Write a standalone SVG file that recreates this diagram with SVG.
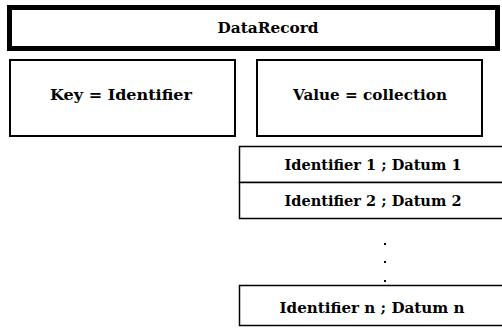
<svg xmlns="http://www.w3.org/2000/svg" width="502" height="329" viewBox="0 0 502 329">
<style>
  text { font-family: 'DejaVu Serif', 'Liberation Serif', serif; font-weight: bold; font-size: 14px; fill: #000; text-anchor: middle; }
  .box { fill: #fff; stroke: #000; stroke-width: 2; }
  .thick { fill: #fff; stroke: #000; stroke-width: 5; }
  .item { fill: #fff; stroke: #000; stroke-width: 1.5; }
</style>
<rect x="0" y="0" width="502" height="329" fill="#fff"/>
<g id="datarecord">
  <rect class="thick" x="9.5" y="7.5" width="488" height="41"/>
  <text x="268" y="33" textLength="101" lengthAdjust="spacingAndGlyphs">DataRecord</text>
</g>
<g id="key">
  <rect class="box" x="10" y="60" width="225" height="76"/>
  <text x="121" y="100" textLength="142" lengthAdjust="spacingAndGlyphs">Key = Identifier</text>
</g>
<g id="value">
  <rect class="box" x="257" y="60" width="225" height="76"/>
  <text x="370" y="100" textLength="154" lengthAdjust="spacingAndGlyphs">Value = collection</text>
</g>
<g id="item1">
  <rect class="item" x="239.5" y="146.5" width="270" height="36"/>
  <text x="373" y="170" textLength="177" lengthAdjust="spacingAndGlyphs">Identifier 1 ; Datum 1</text>
</g>
<g id="item2">
  <rect class="item" x="239.5" y="182.5" width="270" height="36"/>
  <text x="373" y="205.5" textLength="177" lengthAdjust="spacingAndGlyphs">Identifier 2 ; Datum 2</text>
</g>
<g id="ellipsis">
  <rect x="384" y="243" width="2" height="2" fill="#000"/>
  <rect x="384" y="261" width="2" height="2" fill="#000"/>
  <rect x="384" y="280" width="2" height="2" fill="#000"/>
</g>
<g id="itemn">
  <rect class="item" x="239.5" y="285.5" width="270" height="40"/>
  <text x="372" y="313" textLength="185" lengthAdjust="spacingAndGlyphs">Identifier n ; Datum n</text>
</g>
<g id="connectors"></g>
</svg>
